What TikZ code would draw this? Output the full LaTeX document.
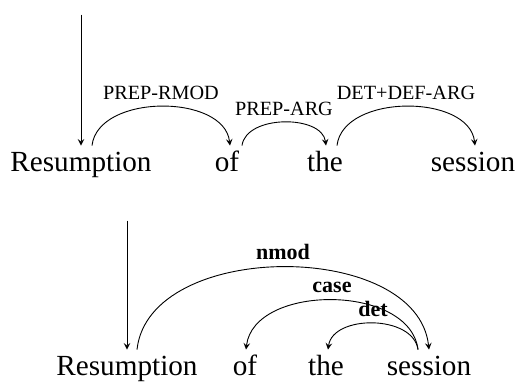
\documentclass[tikz,border=0pt]{standalone}
\usepackage{fontspec}
\setmainfont{Liberation Serif}
\usetikzlibrary{arrows,positioning,calc}

\tikzset{
  word/.style={anchor=base, font=\fontsize{14.6}{16}\selectfont, text height=10pt, text depth=3pt, inner ysep=3pt, inner xsep=0pt},
  dep/.style={->, >=stealth, line width=0.45pt},
  lab/.style={font=\fontsize{10.1}{12}\selectfont},
  udlab/.style={font=\fontsize{11}{13}\selectfont\bfseries},
}

\begin{document}
\begin{tikzpicture}[x=0.5pt, y=0.5pt]
            \useasboundingbox (0,0) rectangle (518,383);
            % top: old scheme
            \node[word] (r1) at (81,211) {Resumption};
            \node[word] (o1) at (227,211) {of};
            \node[word] (t1) at (325,211) {the};
            \node[word] (s1) at (473,211) {session};
            \coordinate (root1) at ($(r1.north)+(0,131)$);
            \draw[dep] (root1) -- (r1.north);
            \draw[dep] ([xshift=5.5pt]r1.north) .. controls +(6,52) and +(-6,52) .. ([xshift=1.5pt]o1.north) node[midway, above, lab] {PREP-RMOD};
            \draw[dep] ([xshift=7.5pt]o1.north) .. controls +(4,31) and +(-4,31) .. ([xshift=0.5pt]t1.north) node[midway, above, lab] {PREP-ARG};
            \draw[dep] ([xshift=6pt]t1.north) .. controls +(6,52) and +(-6,52) .. ([xshift=1pt]s1.north) node[midway, above, lab] {DET+DEF-ARG};
            % bottom: UD
            \node[word] (r2) at (127,7) {Resumption};
            \node[word] (o2) at (245,7) {of};
            \node[word] (t2) at (326,7) {the};
            \node[word] (s2) at (429,7) {session};
            \coordinate (root2) at ($(r2.north)+(0,129)$);
            \draw[dep] (root2) -- (r2.north);
            \draw[dep] ([xshift=5pt]r2.north) .. controls +(12,110) and +(-12,110) .. (s2.north) node[midway, above, udlab] {nmod};
            \draw[dep] ([xshift=-5.5pt]s2.north) .. controls +(-8,66) and +(8,66) .. ([xshift=0.5pt]o2.north) node[midway, above, udlab] {case};
            \draw[dep] ([xshift=-5.5pt]s2.north) .. controls +(-5,35) and +(5,35) .. ([xshift=1pt]t2.north) node[midway, above, udlab] {det};
        \end{tikzpicture}
\end{document}
